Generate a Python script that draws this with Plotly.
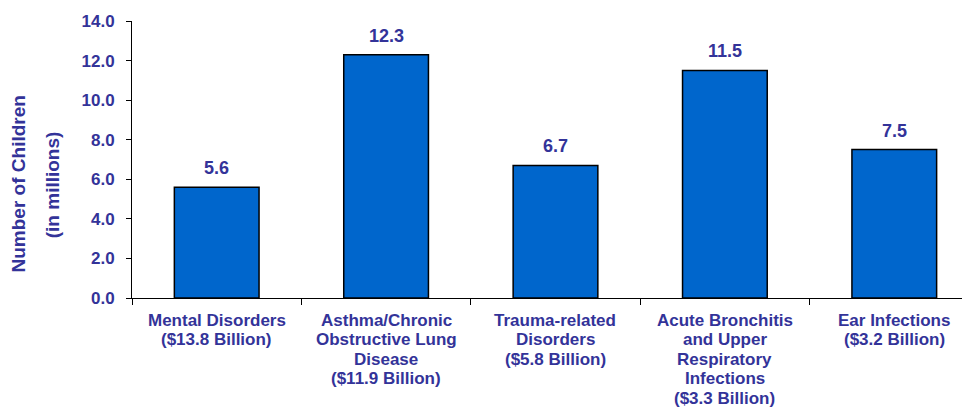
import plotly.graph_objects as go

categories = [
    "Mental Disorders",
    "Asthma/Chronic Obstructive Lung Disease",
    "Trauma-related Disorders",
    "Acute Bronchitis and Upper Respiratory Infections",
    "Ear Infections",
]
label_lines = [
    ["Mental Disorders", "($13.8 Billion)"],
    ["Asthma/Chronic", "Obstructive Lung", "Disease", "($11.9 Billion)"],
    ["Trauma-related", "Disorders", "($5.8 Billion)"],
    ["Acute Bronchitis", "and Upper", "Respiratory", "Infections", "($3.3 Billion)"],
    ["Ear Infections", "($3.2 Billion)"],
]
values = [5.6, 12.3, 6.7, 11.5, 7.5]
y_ticks = [0, 2, 4, 6, 8, 10, 12, 14]
y_title_lines = ["Number of Children", "(in millions)"]

TXT = "#333399"
FONT = "Liberation Sans, Arial, sans-serif"

fig = go.Figure()
fig.add_trace(go.Bar(
    x=categories, y=values, width=0.5,
    marker=dict(color="#0066CC", line=dict(color="black", width=1.5)),
    hoverinfo="skip",
))
for c, v in zip(categories, values):
    fig.add_annotation(x=c, y=v, text=f"<b>{v:.1f}</b>", showarrow=False,
                       yanchor="bottom", yshift=7,
                       font=dict(size=18, color=TXT, family=FONT))

# category labels, one line at a time for tighter line spacing
for c, lines in zip(categories, label_lines):
    for i, ln in enumerate(lines):
        fig.add_annotation(x=c, y=0, yref="paper", text=f"<b>{ln}</b>",
                           showarrow=False, yanchor="middle",
                           yshift=-(22 + i * 19.6),
                           font=dict(size=17, color=TXT, family=FONT))

# y-axis title as two rotated lines
for xpos, ln in zip([-0.136, -0.0945], y_title_lines):
    fig.add_annotation(x=xpos, y=0.41, xref="paper", yref="paper",
                       text=f"<b>{ln}</b>", textangle=-90, showarrow=False,
                       xanchor="center", yanchor="middle",
                       font=dict(size=19, color=TXT, family=FONT))

fig.update_layout(
    width=962, height=399,
    margin=dict(l=124, r=0, t=13, b=109),
    paper_bgcolor="white", plot_bgcolor="white",
    showlegend=False,
    font=dict(family=FONT, color=TXT),
)
fig.update_xaxes(
    range=[-0.5, 4.447], automargin=False,
    showline=True, linecolor="black", linewidth=1,
    ticks="outside", tickson="boundaries", ticklen=6, tickcolor="black",
    showticklabels=False,
    showgrid=False,
)
fig.update_yaxes(
    range=[0, 14], tickvals=y_ticks, automargin=False,
    ticktext=[f"<b>{t:.1f}</b>" for t in y_ticks],
    showline=True, linecolor="black", linewidth=1,
    ticks="outside", ticklen=5, tickcolor="black",
    ticklabelstandoff=8,
    tickfont=dict(size=17, color=TXT, family=FONT),
    showgrid=False, zeroline=False,
)

fig.write_html("out.html")
